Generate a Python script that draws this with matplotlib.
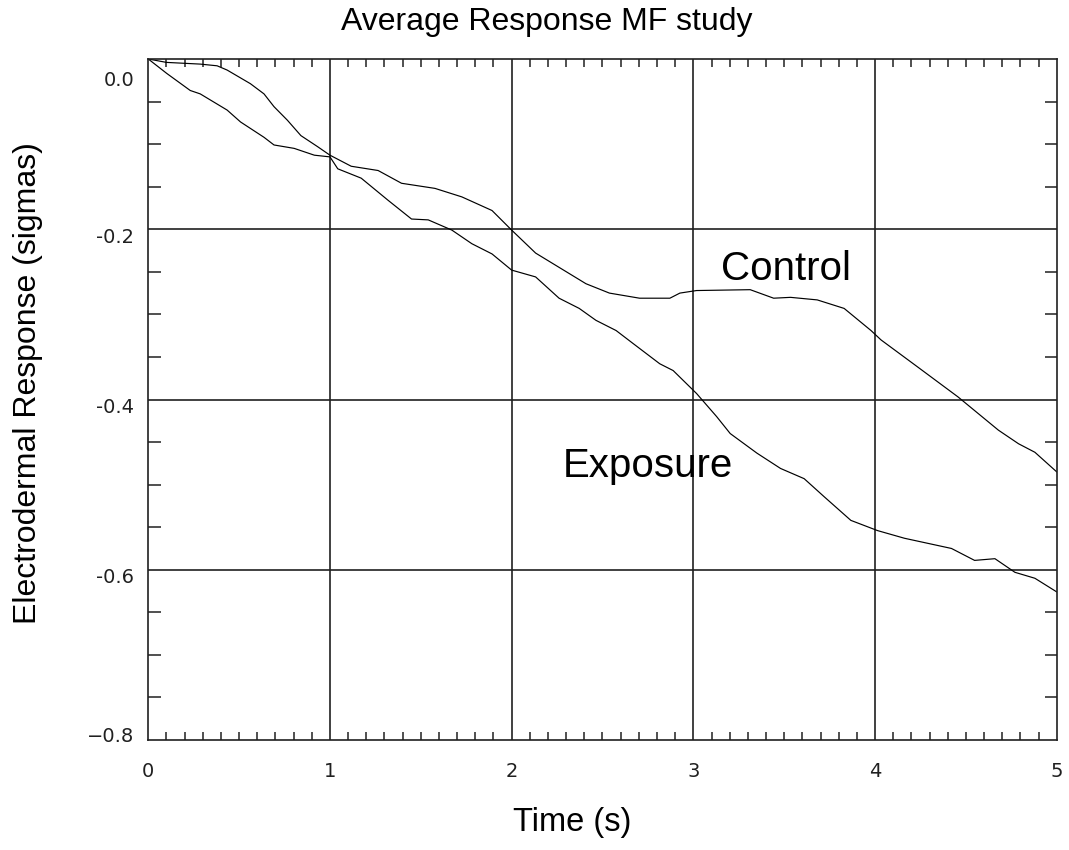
import numpy as np
import matplotlib
matplotlib.use('Agg')
import matplotlib.pyplot as plt
from matplotlib.ticker import MultipleLocator, FixedLocator
import matplotlib.transforms as mtransforms

# curves
control_t = [0, 0.10, 0.286, 0.379, 0.434, 0.562, 0.637, 0.692, 0.766, 0.84, 0.932, 1.0,
             1.117, 1.265, 1.394, 1.578, 1.726, 1.892, 2.0, 2.132, 2.409, 2.538, 2.704,
             2.871, 2.926, 3.018, 3.313, 3.442, 3.535, 3.682, 3.83, 3.978, 4.033, 4.236,
             4.457, 4.679, 4.79, 4.88, 5.0]
control_r = [0, -0.004, -0.006, -0.008, -0.013, -0.029, -0.041, -0.056, -0.072, -0.090,
             -0.103, -0.113, -0.126, -0.131, -0.146, -0.152, -0.162, -0.178, -0.201,
             -0.228, -0.264, -0.275, -0.281, -0.281, -0.275, -0.272, -0.271, -0.281,
             -0.280, -0.283, -0.293, -0.319, -0.330, -0.362, -0.397, -0.436, -0.452,
             -0.462, -0.485]

exposure_t = [0, 0.102, 0.231, 0.286, 0.434, 0.508, 0.637, 0.692, 0.803, 0.914, 1.0,
              1.043, 1.172, 1.32, 1.449, 1.541, 1.671, 1.781, 1.892, 2.0, 2.132, 2.261,
              2.372, 2.464, 2.575, 2.667, 2.815, 2.889, 3.018, 3.128, 3.203, 3.35, 3.48,
              3.61, 3.719, 3.867, 4.014, 4.162, 4.421, 4.548, 4.66, 4.77, 4.88, 5.0]
exposure_r = [0, -0.017, -0.037, -0.041, -0.060, -0.074, -0.092, -0.101, -0.105, -0.113,
              -0.115, -0.129, -0.140, -0.166, -0.188, -0.189, -0.201, -0.217, -0.229,
              -0.248, -0.256, -0.281, -0.293, -0.307, -0.319, -0.334, -0.358, -0.366,
              -0.393, -0.420, -0.440, -0.463, -0.481, -0.493, -0.514, -0.542, -0.554,
              -0.563, -0.575, -0.589, -0.587, -0.603, -0.610, -0.626]

x_ticks = [0, 1, 2, 3, 4, 5]
y_ticks = [0.0, -0.2, -0.4, -0.6, -0.8]
y_tick_labels = ['0.0', '-0.2', '-0.4', '-0.6', '\u22120.8']

label_font = 'Liberation Sans'

fig = plt.figure(figsize=(10.69, 8.5), dpi=100)
ax = fig.add_axes([0.1387, 0.1294, 0.8498, 0.8012])

ax.plot(control_t, control_r, color='black', lw=0.85)
ax.plot(exposure_t, exposure_r, color='black', lw=0.85)

ax.set_xlim(0, 5)
ax.set_ylim(-0.8, 0.0)

# grid only at the inner major positions
for xv in x_ticks[1:-1]:
    ax.axvline(xv, color='#202020', lw=1.2, zorder=1)
for yv in y_ticks[1:-1]:
    ax.axhline(yv, color='#202020', lw=1.2, zorder=1)

ax.xaxis.set_major_locator(FixedLocator(x_ticks))
ax.yaxis.set_major_locator(FixedLocator(y_ticks))
ax.xaxis.set_minor_locator(MultipleLocator(0.1))
ax.yaxis.set_minor_locator(MultipleLocator(0.05))
ax.set_xticklabels([str(v) for v in x_ticks])
ax.set_yticklabels(y_tick_labels)

ax.tick_params(which='major', length=0, labelsize=14, colors='#202020', pad=10)
ax.tick_params(axis='x', which='major', pad=16)
ax.tick_params(axis='x', which='minor', direction='in', length=6, width=1.1,
               top=True, bottom=True, color='#202020')
ax.tick_params(axis='y', which='minor', direction='in', length=9, width=1.1,
               left=True, right=True, color='#202020')

for s in ax.spines.values():
    s.set_linewidth(1.2)
    s.set_color('#202020')

# nudge y tick labels like the original
shifts = [-20, -6, -6, -6, 6]
for lab, dy in zip(ax.get_yticklabels(), shifts):
    lab.set_transform(lab.get_transform() + mtransforms.ScaledTranslation(0, dy / 100, fig.dpi_scale_trans))

ax.text(3.509, -0.26, 'Control', fontsize=29, family=label_font, ha='center', va='baseline')
ax.text(2.749, -0.491, 'Exposure', fontsize=29, family=label_font, ha='center', va='baseline')

fig.text(547 / 1069, 1 - 22 / 850, 'Average Response MF study', fontsize=23,
         family=label_font, ha='center', va='center')
fig.text(572 / 1069, 1 - 822 / 850, 'Time (s)', fontsize=23.5, family=label_font,
         ha='center', va='center')
fig.text(28 / 1069, 1 - 383 / 850, 'Electrodermal Response (sigmas)', fontsize=23,
         family=label_font, ha='center', va='center', rotation=90)

plt.savefig('out.png', dpi=100)
